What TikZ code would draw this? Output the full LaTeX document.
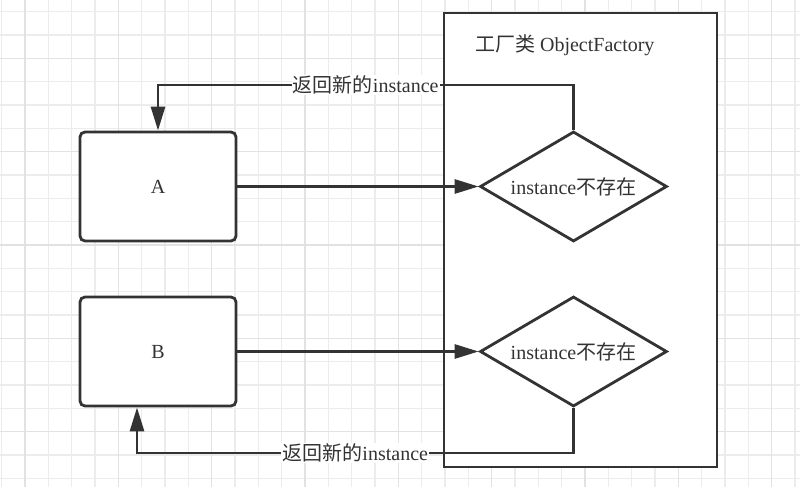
\documentclass[tikz,border=0pt]{standalone}
\usepackage{fontspec}
\setmainfont{Liberation Serif}
\newfontfamily\cjk{Noto Sans CJK SC}
\usetikzlibrary{shapes.geometric,arrows.meta}
\definecolor{linegray}{RGB}{51,51,51}
\definecolor{gridminor}{RGB}{236,236,236}
\definecolor{gridmajor}{RGB}{226,226,226}
\begin{document}
\begin{tikzpicture}[x=1pt, y=-1pt, line width=2.8pt,
  objbox/.style={draw=linegray, rounded corners=5pt, fill=white, minimum width=156pt, minimum height=109pt},
  testbox/.style={draw=linegray, diamond, fill=white, inner sep=0pt, aspect=1.7, minimum width=187pt, minimum height=110pt},
  link/.style={draw=linegray, -{Triangle[length=24pt,width=14pt]}},
  lbl/.style={fill=white, inner sep=1pt, text=linegray}]
\fontsize{20}{24}\selectfont
\useasboundingbox (0,0) rectangle (800,487);
\fill[white] (0,0) rectangle (800,487);
\foreach \k in {0,...,34} \draw[gridminor, line width=1.3pt] ({1.7+23.33*\k},0) -- ({1.7+23.33*\k},487);
\foreach \k in {0,...,20} \draw[gridminor, line width=1.3pt] (0,{11.7+23.33*\k}) -- (800,{11.7+23.33*\k});
\foreach \k in {0,...,8} \draw[gridmajor, line width=1.3pt] ({25+93.33*\k},0) -- ({25+93.33*\k},487);
\foreach \k in {0,...,4} \draw[gridmajor, line width=1.3pt] (0,{58.3+93.33*\k}) -- (800,{58.3+93.33*\k});

\node[draw=linegray, fill=white, minimum width=273pt, minimum height=454pt] (factory) at (580.5,240) {};
\node[anchor=west, text=linegray] (title) at (467,45) {{\cjk 工厂类} ObjectFactory};

\node[objbox, text=linegray] (A) at (158,186.5) {A};
\node[objbox, text=linegray] (B) at (158,351.5) {B};
\node[testbox, text=linegray] (test1) at (573.5,186.5) {instance{\cjk 不存在}};
\node[testbox, text=linegray] (test2) at (573.5,351.5) {instance{\cjk 不存在}};

\draw[link] (A.east) -- (test1.west);
\draw[link] (B.east) -- (test2.west);
\draw[link] (test1.north) -- (test1.north |- 0,85) -| node[pos=0.25, lbl] (ret1) {{\cjk 返回新的}instance} (A.north);
\draw[link] (test2.south) -- (test2.south |- 0,453) -| node[pos=0.25, lbl] (ret2) {{\cjk 返回新的}instance} (137,0 |- B.south);
\end{tikzpicture}
\end{document}
